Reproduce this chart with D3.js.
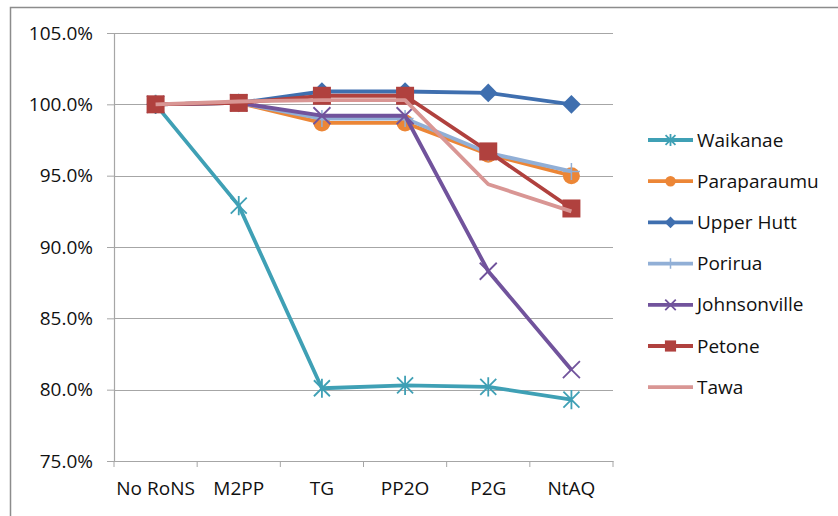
<!DOCTYPE html>
<html>
<head>
<meta charset="utf-8">
<script src="https://cdn.jsdelivr.net/npm/d3@7"></script>
<style>
  body { margin: 0; background: #fff; }
  text { font-family: "Open Sans", "Noto Sans", sans-serif; fill: #111; }
</style>
</head>
<body>
<div id="d3-container"></div>
<script>
/* DATA */
const scenarios = ["No RoNS", "M2PP", "TG", "PP2O", "P2G", "NtAQ"];
const yTicks = [0.75, 0.80, 0.85, 0.90, 0.95, 1.00, 1.05];

const waikanae     = [1.000, 0.929, 0.801, 0.803, 0.802, 0.793];
const paraparaumu  = [1.000, 1.001, 0.987, 0.987, 0.965, 0.950];
const upperHutt    = [1.000, 1.001, 1.009, 1.009, 1.008, 1.000];
const porirua      = [1.000, 1.001, 0.990, 0.990, 0.966, 0.953];
const johnsonville = [1.000, 1.001, 0.992, 0.992, 0.883, 0.814];
const petone       = [1.000, 1.001, 1.006, 1.006, 0.967, 0.927];
const tawa         = [1.000, 1.002, 1.003, 1.003, 0.944, 0.925];

const seriesNames = ["Waikanae", "Paraparaumu", "Upper Hutt", "Porirua", "Johnsonville", "Petone", "Tawa"];
const seriesValues = [waikanae, paraparaumu, upperHutt, porirua, johnsonville, petone, tawa];
const seriesColors = ["#3FA0B5", "#EC8636", "#3F6FAF", "#91AFD6", "#71539C", "#B0413E", "#D99694"];
const seriesMarkers = ["star", "circle", "diamond", "plus", "cross", "square", "none"];

/* CONSTANTS */
const width = 838, height = 516;
const margin = { top: 33, bottom: 55, left: 114, right: 225 };

const svg = d3.select("#d3-container")
  .append("svg")
  .attr("width", width)
  .attr("height", height);

// chart frame (only top/left visible in the picture)
svg.append("rect")
  .attr("x", 10.5).attr("y", 7.5)
  .attr("width", 840).attr("height", 520)
  .attr("fill", "none")
  .attr("stroke", "#8c8c8c")
  .attr("stroke-width", 1.5);

const xScale = d3.scaleBand()
  .domain(scenarios)
  .range([margin.left, width - margin.right]);

const yScale = d3.scaleLinear()
  .domain([0.75, 1.05])
  .range([height - margin.bottom, margin.top]);

// gridlines
svg.append("g")
  .selectAll("line")
  .data(yTicks.slice(1))
  .join("line")
  .attr("x1", margin.left)
  .attr("x2", width - margin.right)
  .attr("y1", d => Math.round(yScale(d)) + 0.5)
  .attr("y2", d => Math.round(yScale(d)) + 0.5)
  .attr("stroke", "#a6a6a6")
  .attr("stroke-width", 1.2);

// axes
const yAxis = d3.axisLeft(yScale)
  .tickValues(yTicks)
  .tickFormat(d3.format(".1%"))
  .tickSize(7)
  .tickPadding(14);

const gy = svg.append("g")
  .attr("transform", `translate(${margin.left},0)`)
  .call(yAxis);
gy.select(".domain").attr("stroke", "#a6a6a6").attr("stroke-width", 1.2);
gy.selectAll(".tick line").attr("stroke", "#a6a6a6");
gy.selectAll(".tick text").style("font-size", "19px");

const xAxis = d3.axisBottom(xScale)
  .tickSize(0)
  .tickPadding(21);

const gx = svg.append("g")
  .attr("transform", `translate(0,${height - margin.bottom})`)
  .call(xAxis);
gx.select(".domain").attr("stroke", "#a6a6a6").attr("stroke-width", 1.2);
gx.selectAll(".tick text").style("font-size", "19px");

// category tick marks at band edges
const edges = scenarios.map(d => xScale(d)).concat([xScale.range()[1]]);
gx.selectAll(".edge")
  .data(edges)
  .join("line")
  .attr("class", "edge")
  .attr("x1", d => d).attr("x2", d => d)
  .attr("y1", 0).attr("y2", 6)
  .attr("stroke", "#a6a6a6");

const cx = d => xScale(d) + xScale.bandwidth() / 2;

const line = d3.line()
  .x((d, i) => cx(scenarios[i]))
  .y(d => yScale(d));

// marker drawing
function drawMarker(g, type, color, size) {
  const s = size;
  if (type === "circle") {
    g.append("circle").attr("r", s * 0.5).attr("fill", color);
  } else if (type === "square") {
    g.append("rect").attr("x", -s / 2).attr("y", -s / 2)
      .attr("width", s).attr("height", s).attr("fill", color);
  } else if (type === "diamond") {
    g.append("path")
      .attr("d", `M0,${-s * 0.55}L${s * 0.55},0L0,${s * 0.55}L${-s * 0.55},0Z`)
      .attr("fill", color);
  } else if (type === "plus") {
    g.append("path")
      .attr("d", `M0,${-s / 2}V${s / 2}M${-s / 2},0H${s / 2}`)
      .attr("stroke", color).attr("stroke-width", 1.5);
  } else if (type === "cross") {
    g.append("path")
      .attr("d", `M${-s / 2},${-s / 2}L${s / 2},${s / 2}M${s / 2},${-s / 2}L${-s / 2},${s / 2}`)
      .attr("stroke", color).attr("stroke-width", 1.8);
  } else if (type === "star") {
    g.append("path")
      .attr("d", `M${-s / 2},${-s / 2}L${s / 2},${s / 2}M${s / 2},${-s / 2}L${-s / 2},${s / 2}M0,${-s * 0.6}V${s * 0.6}`)
      .attr("stroke", color).attr("stroke-width", 1.8);
  }
}

const markerSize = { star: 16, circle: 17, diamond: 17, plus: 17, cross: 17, square: 18, none: 0 };

seriesNames.forEach((name, k) => {
  const g = svg.append("g").attr("class", "series");
  g.append("path")
    .datum(seriesValues[k])
    .attr("d", line)
    .attr("fill", "none")
    .attr("stroke", seriesColors[k])
    .attr("stroke-width", 3.8)
    .attr("stroke-linejoin", "round");
  seriesValues[k].forEach((v, i) => {
    const m = g.append("g").attr("transform", `translate(${cx(scenarios[i])},${yScale(v)})`);
    drawMarker(m, seriesMarkers[k], seriesColors[k], markerSize[seriesMarkers[k]]);
  });
});

// legend
const legend = svg.append("g").attr("transform", "translate(648,140)");
seriesNames.forEach((name, k) => {
  const row = legend.append("g").attr("transform", `translate(0,${k * 41.2})`);
  row.append("line")
    .attr("x1", 0).attr("x2", 45)
    .attr("stroke", seriesColors[k]).attr("stroke-width", 3.8);
  const m = row.append("g").attr("transform", "translate(22.5,0)");
  drawMarker(m, seriesMarkers[k], seriesColors[k], markerSize[seriesMarkers[k]] * 0.62);
  row.append("text")
    .attr("x", 49).attr("y", 0).attr("dy", "0.35em")
    .style("font-size", "19px")
    .text(name);
});
</script>
</body>
</html>
